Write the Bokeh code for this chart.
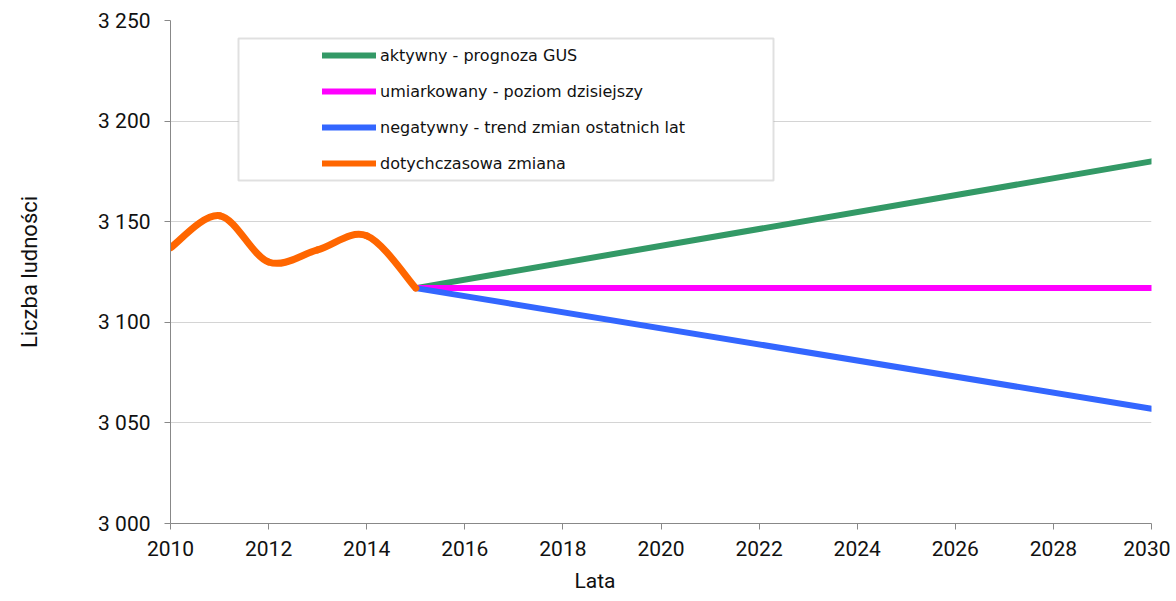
from bokeh.plotting import figure
from bokeh.models import (Range1d, FixedTicker, CustomJSTickFormatter, Legend, LegendItem,
                          BoxAnnotation, Title)
from bokeh.embed import file_html
from bokeh.resources import INLINE

# ---- data ----
hist_years = [2010, 2011, 2012, 2013, 2014, 2015]
hist_vals = [3137, 3153, 3130, 3136, 3143, 3117]

proj_years = [2015, 2030]
aktywny = [3117, 3180]
umiarkowany = [3117, 3117]
negatywny = [3117, 3057]

x_ticks = list(range(2010, 2031, 2))
y_ticks = [3000, 3050, 3100, 3150, 3200, 3250]

names = ["aktywny - prognoza GUS", "umiarkowany - poziom dzisiejszy",
         "negatywny - trend zmian ostatnich lat", "dotychczasowa zmiana"]
colors = ["#339966", "#FF00FF", "#3366FF", "#FF6600"]

FONT = "Roboto"

p = figure(width=1170, height=601, output_backend="svg", toolbar_location=None,
           x_range=Range1d(2010, 2030), y_range=Range1d(3000, 3250),
           min_border_left=170, min_border_right=19, min_border_top=20, min_border_bottom=78)
p.outline_line_color = None
p.background_fill_color = "white"
p.border_fill_color = "white"

# axes
for ax in (p.xaxis[0], p.yaxis[0]):
    ax.axis_line_color = "#888888"
    ax.axis_line_width = 1
    ax.major_tick_line_color = "#888888"
    ax.major_tick_out = 6
    ax.major_tick_in = 0
    ax.minor_tick_line_color = None
    ax.major_label_text_font = FONT
    ax.major_label_text_font_size = "21px"
    ax.major_label_text_color = "#111111"

p.xaxis.ticker = FixedTicker(ticks=x_ticks)
p.yaxis.ticker = FixedTicker(ticks=y_ticks)
p.xaxis.major_label_standoff = 11
p.yaxis.major_label_standoff = 14
p.yaxis.formatter = CustomJSTickFormatter(code="""
    const s = Math.round(tick).toString();
    return s.length > 3 ? s.slice(0, s.length - 3) + ' ' + s.slice(-3) : s;
""")
p.yaxis.axis_label = "Liczba ludności"
p.yaxis.axis_label_text_font = FONT
p.yaxis.axis_label_text_font_size = "22px"
p.yaxis.axis_label_text_font_style = "normal"
p.yaxis.axis_label_text_color = "#111111"
p.yaxis.axis_label_standoff = 53

p.xgrid.grid_line_color = None
p.ygrid.grid_line_color = "#d4d4d4"
p.ygrid.grid_line_width = 1
p.ygrid.ticker = FixedTicker(ticks=y_ticks)

LW = 6
r_akt = p.line(proj_years, aktywny, line_color=colors[0], line_width=LW, line_cap="round")
r_umi = p.line(proj_years, umiarkowany, line_color=colors[1], line_width=LW, line_cap="round")
r_neg = p.line(proj_years, negatywny, line_color=colors[2], line_width=LW, line_cap="round")

# smoothed history (Catmull-Rom control points from the data points)
n = len(hist_years)
x0s, y0s, x1s, y1s, cx0, cy0, cx1, cy1 = [], [], [], [], [], [], [], []
for i in range(n - 1):
    xm, ym = (hist_years[i - 1], hist_vals[i - 1]) if i > 0 else (hist_years[i], hist_vals[i])
    xa, ya = hist_years[i], hist_vals[i]
    xb, yb = hist_years[i + 1], hist_vals[i + 1]
    xp, yp = (hist_years[i + 2], hist_vals[i + 2]) if i + 2 < n else (xb, yb)
    x0s.append(xa); y0s.append(ya); x1s.append(xb); y1s.append(yb)
    cx0.append(xa + (xb - xm) / 6); cy0.append(ya + (yb - ym) / 6)
    cx1.append(xb - (xp - xa) / 6); cy1.append(yb - (yp - ya) / 6)
r_hist = p.bezier(x0=x0s, y0=y0s, x1=x1s, y1=y1s, cx0=cx0, cy0=cy0, cx1=cx1, cy1=cy1,
                  line_color=colors[3], line_width=LW + 1, line_cap="round")
r_hist_leg = p.line([hist_years[0]], [hist_vals[0]], line_color=colors[3], line_width=LW,
                    line_cap="round")

# legend border box (screen units relative to frame)
p.add_layout(BoxAnnotation(left=68, right=603, top=485, bottom=343,
                           left_units="screen", right_units="screen",
                           top_units="screen", bottom_units="screen",
                           fill_color="white", fill_alpha=1.0,
                           line_color="#999999", line_width=2, level="overlay"))

legend = Legend(items=[LegendItem(label=names[0], renderers=[r_akt]),
                       LegendItem(label=names[1], renderers=[r_umi]),
                       LegendItem(label=names[2], renderers=[r_neg]),
                       LegendItem(label=names[3], renderers=[r_hist_leg])],
                location=(152, 350), orientation="vertical",
                border_line_color=None, background_fill_alpha=0,
                padding=0, margin=0, spacing=16,
                glyph_width=54, glyph_height=20, label_height=20,
                label_standoff=4, label_text_font="DejaVu Sans",
                label_text_font_size="16px", label_text_color="#111111")
p.add_layout(legend)

p.add_layout(Title(text="Lata", align="left", offset=404, standoff=16,
                   text_line_height=0.8,
                   text_font=FONT, text_font_size="21px", text_font_style="normal",
                   text_color="#111111"), "below")

open("out.html", "w").write(file_html(p, INLINE))
